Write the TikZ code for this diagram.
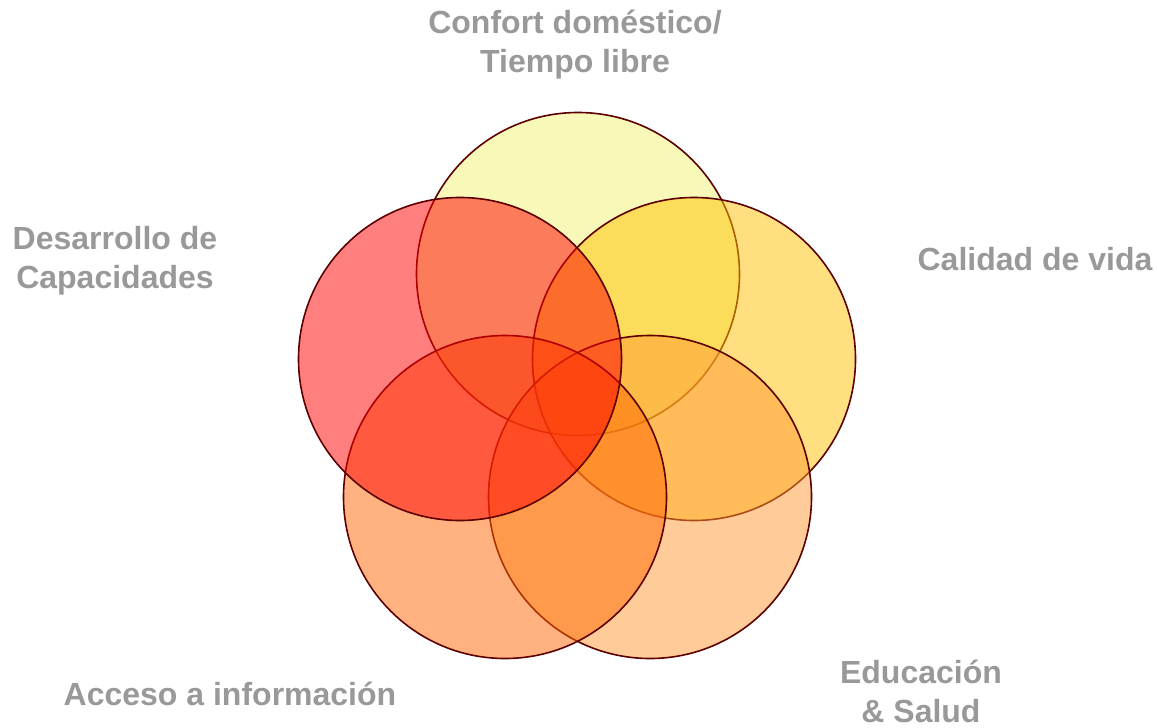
\documentclass[tikz,border=0pt]{standalone}
\usepackage{fontspec}
\setmainfont{Liberation Sans}
\definecolor{labelgray}{HTML}{999999}
\definecolor{rim}{HTML}{5C0000}
\definecolor{cTop}{HTML}{F1F171}
\definecolor{cRight}{HTML}{FFC000}
\definecolor{cBR}{HTML}{FF9933}
\definecolor{cBL}{HTML}{FF6600}
\definecolor{cLeft}{HTML}{FF0000}
\begin{document}
\begin{tikzpicture}[x=1pt,y=-1pt,
  venn/.style={circle, draw=rim, line width=1.6pt, fill opacity=0.5, draw opacity=1, minimum size=323pt, inner sep=0pt},
  lbl/.style={font=\fontsize{32}{39}\selectfont\bfseries, text=labelgray, align=center, inner sep=0pt, anchor=base}]
\useasboundingbox (0,0) rectangle (1157,728);
\node[venn, fill=cTop]   (ctop)   at (578,274) {};
\node[venn, fill=cRight] (cright) at (694,359) {};
\node[venn, fill=cBR]    (cbr)    at (650,497) {};
\node[venn, fill=cBL]    (cbl)    at (505,497) {};
\node[venn, fill=cLeft]  (cleft)  at (460,359) {};
\node[lbl] (ltop) at (575,72) {Confort doméstico/\\Tiempo libre};
\node[lbl] (lleft) at (115,288) {Desarrollo de\\Capacidades};
\node[lbl] (lright) at (1035,270) {Calidad de vida};
\node[lbl] (lbr) at (921,722) {Educación\\\& Salud};
\node[lbl] (lbl) at (230,705) {Acceso a información};
\end{tikzpicture}
\end{document}
